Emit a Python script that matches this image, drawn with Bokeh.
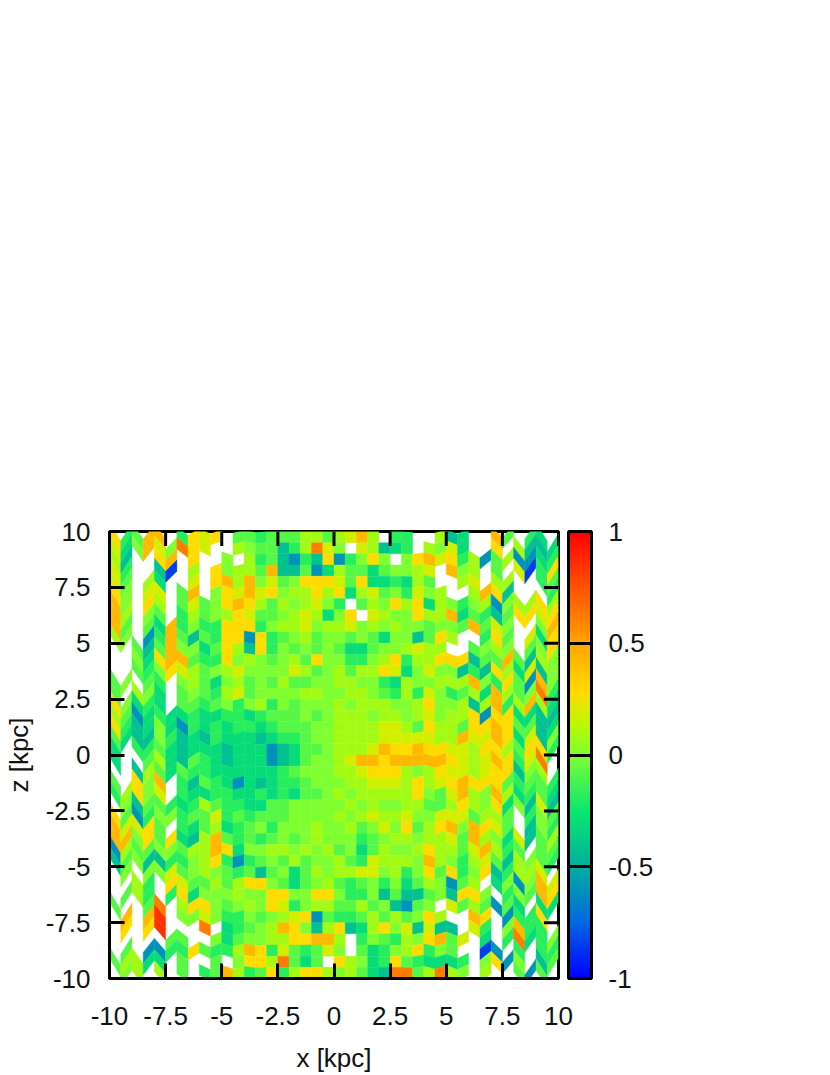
from bokeh.plotting import figure
from bokeh.models import (ColumnDataSource, LinearColorMapper, ColorBar, FixedTicker,
                          LinearAxis, Range1d)
from bokeh.embed import file_html
from bokeh.resources import INLINE

# Value levels used to read the picture; "." is an empty (white) cell
LEVELS = {"a": -0.85, "b": -0.6, "c": -0.42, "d": -0.3, "e": -0.18, "f": -0.08, "g": 0.0,
          "h": 0.08, "i": 0.18, "j": 0.28, "k": 0.42, "l": 0.62, "m": 0.85}

# Rows from z=+10 down to z=-10, each: left half, right half (x=-10 .. x=+10)
ROWS = [
 ("jefkk.ejij.ffefffhhf", "hikh.ee..hcd..kf.ed."),
 ("idgkiglji..hgffcehli", "g.ihcde.hgid..j.hccd"),
 ("hc..jk.j..g.hefcbecj", "begjg.gjkijehbfhbbde"),
 ("ie..ca.h.jghhfkccfbd", "hffdfgghi.kgh.f.iaej"),
 ("if.hd..i.jkhkgifgjjj", "ifjddedhf..hi.hh..ef"),
 ("jg.ii.fk.gjikijghhjh", "jdhifgeigh..hkjc...e"),
 ("kg.jh.fifgjkjhfhghig", "e.fhgjhjdhgeghbghhjh"),
 ("kh.gf.ehfghjiffghihd", "gj.ihggjhhkdfecfjjij"),
 ("kf.fdkegeejjjeghhigh", "highghggfggfkfig..gk"),
 ("hg.bekfcfejjbjefghfg", "gfgfdggcfjh..ejf.idj"),
 ("..fcfkggdfjhcjegfgfg", "fddfgghihh..fghg.fgj"),
 ("..gdjkkfeejghgfghfjg", "geeghjehhjjjcffkfchg"),
 ("..fegjihfghiggggihfg", "hfhhjidgiggcecjhdicg"),
 ("fg.fe.ghfdghfgfhffgg", "hhggedhgghhhkgejfbkg"),
 ("f.hgd.fgfehifgggghhg", "ghhgfeheigefhdkhfgle"),
 ("jgded.ffefgeghegfggg", "hghhhgghjgghchkehkhd"),
 ("hfbdeddeddeedefffgfg", "hhhghhghighhjbjjddcc"),
 ("jecdgdbededeedefffgg", "hhhhiihfjhhfjjkjffcd"),
 ("fdccgecdcedddcdeefgg", "hhhhiiiiihhkiikjdicg"),
 ("d.eefdcdddcdddbcdffg", "hhhikjjkjjiihjjhfjje"),
 ("d..fhdcfedcdddbcdfgg", "hikkjkkkkkjihikjeil."),
 ("..chfdfeeddddddefggg", "hhijjjhghjiihijjcgh."),
 ("f.jgk.ecfedbdcdeefgg", "ghhiiihjhijkjjjfeffe"),
 ("ehjgi.eddeeddededffg", "hghhhhhjgfikhgkhdefd"),
 (".gcffedehfeeddffgggg", "ghghgghhffhjhgjdgcic"),
 ("jfbeggeffiefefffgggg", "hghihhiggiiifhhf.egf"),
 ("kiijf.edfhdefgeggghg", "ghfgigjfhjkgkjif.cge"),
 ("kkgjfjdchkfefefgfghg", "ggefghhghhifkhgdicfh"),
 ("bhffggfhhkjdgghhghgh", "fgdfhgghjhhfikhef.ff"),
 ("cfgcceeghjebefgfhfgg", "hfeihhhgkhgehifchgfe"),
 (".g.ggifghgfefcfgdfhg", "hhiighegjfjegjcehhi."),
 ("..he.jiffhfhjjgfdfgh", "fefgegdfhgbfh.dgbgki"),
 (".fhe.ejdggghggjjggjj", "geegcfccfgcjjg.egfkj"),
 ("f..fl.hjjgfghgjieghh", "ffhfgcbfg.ifhfbfd.dd"),
 (".k.km.ggigeegfghijbf", "eefhfhfgjh..kj.beej."),
 (".j.jm...l.defghkjgch", "jcdhjgicicc.ie.gkee."),
 (".....ff..gdfgghhjjkk", "h.egfehgjkfi.d.eldeg"),
 (".f.bbeejfeehkjeifefi", "g.fdeghjegf..ab.e.ee"),
 ("fhhdd.f..f.gjjhlfdf.", "jhgdejfeddde.gjbg.cf"),
 (".gh.h.f.efkhefjehjjh", "ghfdcllfhlhg.h..fbf."),
]

X_TICKS = [-10, -7.5, -5, -2.5, 0, 2.5, 5, 7.5, 10]
Z_TICKS = [-10, -7.5, -5, -2.5, 0, 2.5, 5, 7.5, 10]
BAR_TICKS = [-1, -0.5, 0, 0.5, 1]
COLOR_STOPS = [(-1.0, (0, 0, 255)), (-0.75, (0, 105, 225)), (-0.5, (0, 175, 160)),
               (-0.25, (10, 232, 110)), (0.0, (125, 255, 50)), (0.14, (190, 248, 0)),
               (0.28, (255, 220, 0)), (0.5, (255, 165, 0)), (1.0, (255, 0, 0))]
# Sideways wobble of the grid lines, per half-kpc column edge from the outside in
ZIG = [0.42, 0.42, 0.38, 0.34, 0.3, 0.28, 0.22, 0.18, 0.14, 0.11, 0.09, 0.07, 0.05, 0.03]
TICK_KPC = 0.65


def palette():
    out = []
    for n in range(256):
        v = -1 + 2 * n / 255
        for (a, ca), (b, cb) in zip(COLOR_STOPS, COLOR_STOPS[1:]):
            if a <= v <= b:
                t = (v - a) / (b - a)
                c = [round(p + (q - p) * t) for p, q in zip(ca, cb)]
                out.append("#%02x%02x%02x" % tuple(c))
                break
    return out


def shift(i):
    k = min(i, 40 - i)
    amp = ZIG[k] if k < len(ZIG) else 0.0
    return amp if i % 2 == 0 else -amp


xs, ys, vals = [], [], []
for r, (left, right) in enumerate(ROWS):
    line = (left + right)[:40]
    ztop = 10 - r * 0.5
    for c, ch in enumerate(line):
        if ch not in LEVELS:
            continue
        x0, x1 = -10 + c * 0.5, -10 + (c + 1) * 0.5
        s0, s1 = shift(c), shift(c + 1)
        xs.append([x0, x1, x1, x0])
        ys.append([ztop + s0, ztop + s1, ztop - 0.5 + s1, ztop - 0.5 + s0])
        vals.append(LEVELS[ch])

FONT = "Liberation Sans"
FS = "26px"
mapper = LinearColorMapper(palette=palette(), low=-1, high=1)

p = figure(width=670, height=1075, x_range=Range1d(-10, 10), y_range=Range1d(-10, 10),
           output_backend="svg", toolbar_location=None, x_axis_location=None, y_axis_location=None,
           min_border_left=109, min_border_top=531, min_border_bottom=97, min_border_right=112)
p.grid.visible = False
p.outline_line_color = "black"
p.outline_line_width = 3
p.background_fill_color = "white"

src = ColumnDataSource(dict(xs=xs, ys=ys, v=vals))
p.patches("xs", "ys", source=src,
          fill_color={"field": "v", "transform": mapper},
          line_color={"field": "v", "transform": mapper}, line_width=0.4)

# Inward ticks on the top and right edges, at the same positions as the labelled axes
p.segment(x0=X_TICKS, y0=[10] * len(X_TICKS), x1=X_TICKS, y1=[10 - TICK_KPC] * len(X_TICKS),
          line_color="black", line_width=3)
p.segment(x0=[10] * len(Z_TICKS), y0=Z_TICKS, x1=[10 - TICK_KPC] * len(Z_TICKS), y1=Z_TICKS,
          line_color="black", line_width=3)


def overrides(ticks):
    return {t: ("%g" % t) for t in ticks}


def make_axis(ticks, label):
    a = LinearAxis(ticker=FixedTicker(ticks=ticks), axis_line_color="black", axis_line_width=3,
                   major_tick_in=15, major_tick_out=0, major_tick_line_width=3,
                   major_tick_line_color="black", minor_tick_line_color=None)
    a.major_label_overrides = overrides(ticks)
    a.major_label_text_font = FONT
    a.major_label_text_font_size = FS
    a.major_label_text_color = "#111111"
    a.axis_label = label
    a.axis_label_text_font = FONT
    a.axis_label_text_font_size = FS
    a.axis_label_text_font_style = "normal"
    a.axis_label_text_color = "#111111"
    return a


bottom = make_axis(X_TICKS, "x [kpc]")
bottom.major_label_standoff = 28
bottom.axis_label_standoff = 15
left = make_axis(Z_TICKS, "z [kpc]")
left.major_label_standoff = 19
left.major_label_orientation = "horizontal"
left.axis_label_standoff = 9
p.add_layout(bottom, "below")
p.add_layout(left, "left")

bar = ColorBar(color_mapper=mapper, ticker=FixedTicker(ticks=BAR_TICKS), width=23, height=447,
               padding=0, location=(10, 0),
               major_label_overrides=overrides(BAR_TICKS), major_label_text_font=FONT,
               major_label_text_font_size=FS, major_label_text_color="#111111", label_standoff=17,
               major_tick_line_color="black", major_tick_line_width=3, major_tick_in=23, major_tick_out=0,
               bar_line_color="black", bar_line_width=3, border_line_color=None,
               background_fill_color=None, minor_tick_line_color=None)
p.add_layout(bar, "right")

open("out.html", "w").write(file_html(p, INLINE))
